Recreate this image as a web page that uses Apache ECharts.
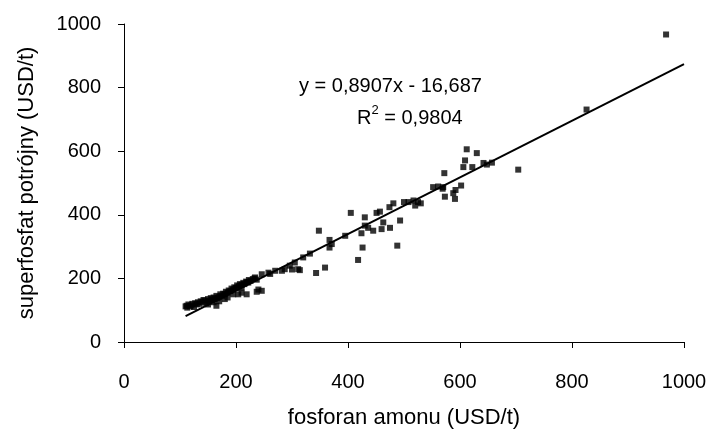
<!DOCTYPE html>
<html>
<head>
<meta charset="utf-8">
<script src="https://cdn.jsdelivr.net/npm/echarts@6/dist/echarts.min.js"></script>
<style>
	html,body{margin:0;padding:0;background:#fff;}
	#scatterChart{width:713px;height:430px;}
</style>
</head>
<body>
<div id="scatterChart"></div>
<script>
// fosforan amonu (x) vs superfosfat potrójny (y), USD/t
var pricePoints = [
	[110,112],[113,108],[115,118],[118,112],[120,115],[122,120],[125,110],[127,122],[130,118],[132,125],
	[135,120],[137,128],[140,125],[142,132],[145,130],[147,122],[150,135],[152,128],[155,138],[157,132],
	[160,140],[162,135],[165,145],[167,138],[170,142],[172,150],[175,145],[177,152],[180,150],[182,158],
	[185,155],[187,162],[190,160],[192,168],[195,165],[197,172],[200,170],[202,178],[205,175],[207,182],
	[210,180],[213,186],[215,182],[218,190],[220,188],[223,195],[226,192],[230,198],[233,200],[237,196],
	[150,118],[160,125],[165,114],[170,128],[180,135],[185,140],[195,150],[204,150],[210,155],[219,150],
	[210,171],[222,187],[234,203],[246,213],[258,218],[270,224],[287,229],[311,229],[320,266],[305,250],
	[237,158],[246,161],[240,165],[261,214],[282,224],[296,240],[112,114],
	[300,228],[314,226],[343,217],[359,234],[332,278],[348,350],[367,321],[371,308],[367,297],[395,334],
	[405,406],[418,258],[426,297],[424,342],[430,366],[430,392],[436,359],[445,350],[451,406],[457,410],
	[460,355],[463,376],[475,359],[474,424],[481,436],[488,303],[493,382],[500,440],[508,440],[520,429],
	[517,445],[525,440],[530,436],[552,487],[561,489],[570,487],[569,482],[572,531],[573,457],[588,468],
	[592,478],[591,450],[602,492],[606,550],[609,571],[612,606],[622,550],[630,594],[642,563],[648,558],
	[657,564],[704,542],[826,731],[968,967]
];
// trend line y = a*x + b as printed on the chart
var trendSlope = 0.8907;
var trendIntercept = -16.687;
var trendRange = [110, 1000];
var axisTicks = [0, 200, 400, 600, 800, 1000];

var trendLine = trendRange.map(function(x){
	return [x, trendSlope * x + trendIntercept];
});

var font = 'Liberation Sans, Arial, sans-serif';
var myChart = echarts.init(document.getElementById('scatterChart'));
var option = {
	animation:false,
	backgroundColor:'#fff',
	grid:{
		left:124,
		right:29,
		top:24,
		bottom:88,
		containLabel:false,
		outerBoundsMode:'none'
	},
	xAxis:{
		type:'value',
		min:axisTicks[0],
		max:axisTicks[axisTicks.length - 1],
		interval:200,
		name:'fosforan amonu (USD/t)',
		nameLocation:'middle',
		nameGap:65,
		nameTextStyle:{color:'#000',fontSize:22,fontFamily:font},
		axisLine:{lineStyle:{color:'#000',width:1}},
		axisTick:{show:true,length:6,lineStyle:{color:'#000'}},
		axisLabel:{
			color:'#000',fontSize:20,fontFamily:font,margin:30,
			formatter:function(v){ return String(v); }
		},
		splitLine:{show:false}
	},
	yAxis:{
		type:'value',
		min:axisTicks[0],
		max:axisTicks[axisTicks.length - 1],
		interval:200,
		name:'superfosfat potrójny (USD/t)',
		nameLocation:'middle',
		nameGap:86,
		nameTextStyle:{color:'#000',fontSize:22,fontFamily:font},
		axisLine:{show:true,lineStyle:{color:'#000',width:1}},
		axisTick:{show:true,length:6,lineStyle:{color:'#000'}},
		axisLabel:{
			color:'#000',fontSize:20,fontFamily:font,margin:23,
			formatter:function(v){ return String(v); }
		},
		splitLine:{show:false}
	},
	graphic:[
		{
			type:'text',
			left:299,
			top:76,
			style:{text:'y = 0,8907x - 16,687',fill:'#000',font:'20px ' + font}
		},
		{
			type:'text',
			left:357,
			top:104,
			style:{
				text:'{a|R}{s|2}{a| = 0,9804}',
				fill:'#000',
				rich:{
					a:{fontSize:20,fontFamily:font,color:'#000',verticalAlign:'bottom',lineHeight:24},
					s:{fontSize:13,fontFamily:font,color:'#000',verticalAlign:'top',lineHeight:24}
				}
			}
		}
	],
	series:[
		{
			type:'scatter',
			symbol:'rect',
			symbolSize:6,
			itemStyle:{color:'#000'},
			z:3,
			data:pricePoints
		},
		{
			type:'line',
			symbol:'none',
			lineStyle:{color:'#000',width:2},
			z:4,
			data:trendLine
		}
	]
};
myChart.setOption(option);
</script>
</body>
</html>
